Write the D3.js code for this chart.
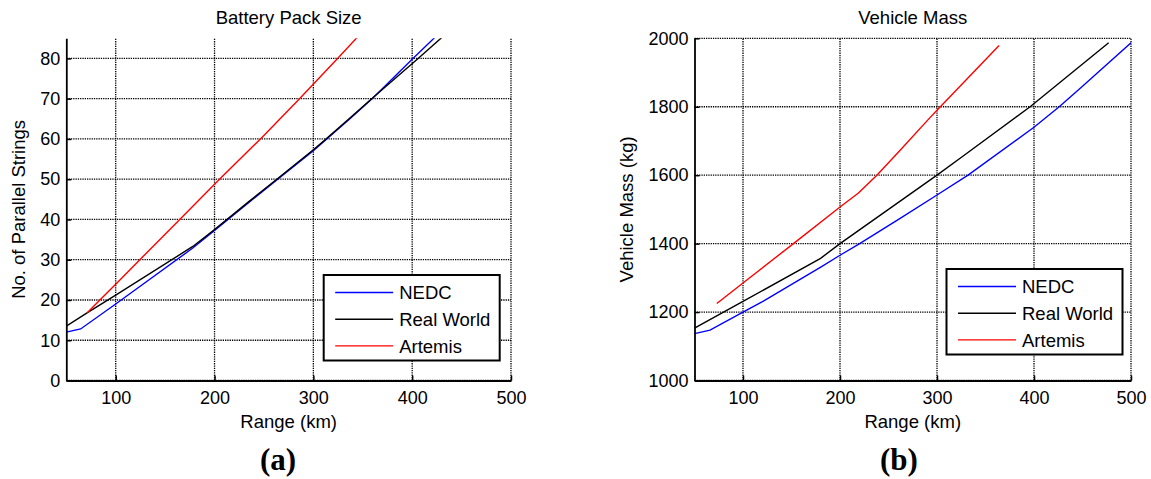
<!DOCTYPE html>
<html>
<head>
<meta charset="utf-8">
<script src="https://cdn.jsdelivr.net/npm/d3@7/dist/d3.min.js"></script>
<style>
  html, body { margin: 0; padding: 0; background: #fff; }
  svg { display: block; }
  text { font-family: "Liberation Sans", Arial, Helvetica, sans-serif; fill: #000; }
</style>
</head>
<body>
<svg id="chart" width="1151" height="479"></svg>
<script>
// Series names and colours shared by both panels
const seriesNames = ["NEDC", "Real World", "Artemis"];
const seriesColors = ["#0000ff", "#000000", "#ff0000"];

// Panel (a): battery pack size, [range km, number of parallel strings]
const packNEDC = [[50, 12.0], [64.5, 12.8], [100, 19.0], [178, 32.9], [200, 37.3], [235, 44.3], [263, 49.8], [300, 57.1], [337, 65.0], [360, 70.1], [400, 79.8], [422, 85.0], [430, 86.9]];
const packRealWorld = [[50, 13.5], [71, 16.8], [100, 21.2], [178, 33.3], [200, 37.5], [235, 44.5], [263, 50.0], [300, 57.3], [311, 59.6], [337, 65.2], [359, 70.0], [406, 80.0], [430, 85.2], [440, 87.4]];
const packArtemis = [[71.2, 16.8], [84, 20.0], [100, 23.9], [124.4, 30.0], [164.8, 40.0], [205, 50.0], [246.5, 60.0], [286, 70.0], [324.5, 80.0], [343.5, 85.0], [350, 86.7]];
const packXTicks = [100, 200, 300, 400, 500];
const packYTicks = [0, 10, 20, 30, 40, 50, 60, 70, 80];

// Panel (b): vehicle mass, [range km, mass kg]
const massNEDC = [[50, 1137], [66, 1147], [100, 1200], [121, 1232], [181, 1333], [200, 1366], [219, 1398], [262, 1474], [300, 1542], [332, 1600], [400, 1740], [426, 1800], [450, 1860], [500, 1987]];
const massRealWorld = [[50, 1153], [100, 1231], [180, 1357], [200, 1400], [300, 1600], [327, 1656], [396, 1800], [477, 1987]];
const massArtemis = [[73, 1225], [100, 1285], [152, 1400], [200, 1507], [219, 1548], [238, 1600], [262, 1673], [293, 1769], [300, 1790], [364, 1979]];
const massXTicks = [100, 200, 300, 400, 500];
const massYTicks = [1000, 1200, 1400, 1600, 1800, 2000];

const svg = d3.select("#chart");

function drawPanel(cfg) {
  const g = svg.append("g");
  const x = d3.scaleLinear().domain(cfg.xDomain).range([cfg.left, cfg.right]);
  const y = d3.scaleLinear().domain(cfg.yDomain).range([cfg.bottom, cfg.top]);

  // dotted grid
  const grid = g.append("g")
    .attr("stroke", "#000")
    .attr("stroke-width", 1.3)
    .attr("stroke-dasharray", "1.3,1");
  grid.selectAll("line.gx").data(cfg.xTicks).join("line")
    .attr("x1", d => x(d)).attr("x2", d => x(d))
    .attr("y1", cfg.bottom).attr("y2", cfg.top);
  grid.selectAll("line.gy").data(cfg.yTicks).join("line")
    .attr("x1", cfg.left).attr("x2", cfg.right)
    .attr("y1", d => y(d)).attr("y2", d => y(d));

  // data lines, clipped to the axes box
  const clipId = "clip-" + cfg.id;
  svg.append("clipPath").attr("id", clipId).append("rect")
    .attr("x", cfg.left).attr("y", cfg.top)
    .attr("width", cfg.right - cfg.left).attr("height", cfg.bottom - cfg.top);
  const line = d3.line().x(d => x(d[0])).y(d => y(d[1]));
  g.append("g").attr("clip-path", `url(#${clipId})`)
    .selectAll("path").data(cfg.series).join("path")
    .attr("d", d => line(d))
    .attr("fill", "none")
    .attr("stroke", (d, i) => seriesColors[i])
    .attr("stroke-width", 1.4);

  // axes with inward ticks
  const fmt = d3.format("d");
  const xAxis = g.append("g").attr("transform", `translate(0,${cfg.bottom})`)
    .call(d3.axisBottom(x).tickValues(cfg.xTicks).tickFormat(fmt).tickSizeInner(-5).tickSizeOuter(0).tickPadding(11));
  const yAxis = g.append("g").attr("transform", `translate(${cfg.left},0)`)
    .call(d3.axisLeft(y).tickValues(cfg.yTicks).tickFormat(fmt).tickSizeInner(-5).tickSizeOuter(0).tickPadding(6));
  [xAxis, yAxis].forEach(a => {
    a.select(".domain").attr("stroke", "#000").attr("stroke-width", 1.8);
    a.selectAll(".tick line").attr("stroke", "#000").attr("stroke-width", 1.5);
    a.selectAll(".tick text").attr("font-size", 18).attr("font-family", "Liberation Sans, Arial, sans-serif").attr("fill", "#000");
  });

  const cx = (cfg.left + cfg.right) / 2;
  const cy = (cfg.top + cfg.bottom) / 2;

  // title and axis labels
  g.append("text").attr("x", cx).attr("y", 24).attr("text-anchor", "middle")
    .attr("font-size", 18.5).text(cfg.title);
  g.append("text").attr("x", cx).attr("y", 428).attr("text-anchor", "middle")
    .attr("font-size", 18.5).text("Range (km)");
  g.append("text")
    .attr("transform", `translate(${cfg.yLabelX},${cy}) rotate(-90)`)
    .attr("text-anchor", "middle").attr("dy", "0.35em")
    .attr("font-size", 18.5).text(cfg.yLabel);

  // panel letter
  g.append("text").attr("x", cfg.letterX).attr("y", 470)
    .attr("text-anchor", "middle").attr("font-size", 31).attr("font-weight", "bold")
    .style("font-family", "'Liberation Serif', 'Times New Roman', serif")
    .text(`(${cfg.letter})`);

  // legend
  const lg = g.append("g");
  lg.append("rect")
    .attr("x", cfg.legend.x).attr("y", cfg.legend.y)
    .attr("width", 176).attr("height", 85.5)
    .attr("fill", "#fff").attr("stroke", "#000").attr("stroke-width", 2);
  seriesNames.forEach((name, i) => {
    const ly = cfg.legend.y + 17.5 + i * 26.7;
    lg.append("line")
      .attr("x1", cfg.legend.x + 11.5).attr("x2", cfg.legend.x + 69.5)
      .attr("y1", ly).attr("y2", ly)
      .attr("stroke", seriesColors[i]).attr("stroke-width", 1.4);
    lg.append("text")
      .attr("x", cfg.legend.x + 75.5).attr("y", ly).attr("dy", "0.36em")
      .attr("font-size", 18.5).text(name);
  });
}

drawPanel({
  id: "pack",
  left: 66.3, right: 511, top: 38.3, bottom: 380.5,
  xDomain: [50, 500], yDomain: [0, 85],
  xTicks: packXTicks, yTicks: packYTicks,
  series: [packNEDC, packRealWorld, packArtemis],
  title: "Battery Pack Size",
  yLabel: "No. of Parallel Strings", yLabelX: 19,
  letter: "a", letterX: 278,
  legend: { x: 323.7, y: 275 }
});

drawPanel({
  id: "mass",
  left: 694.5, right: 1131, top: 38.3, bottom: 380.5,
  xDomain: [50, 500], yDomain: [1000, 2000],
  xTicks: massXTicks, yTicks: massYTicks,
  series: [massNEDC, massRealWorld, massArtemis],
  title: "Vehicle Mass",
  yLabel: "Vehicle Mass (kg)", yLabelX: 627,
  letter: "b", letterX: 899,
  legend: { x: 946.5, y: 269 }
});
</script>
</body>
</html>
